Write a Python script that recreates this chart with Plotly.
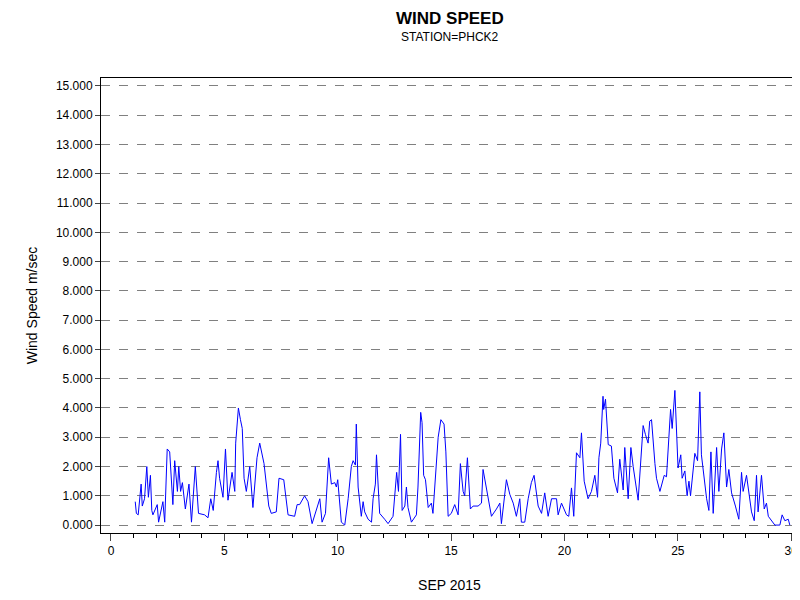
import plotly.graph_objects as go

# (day of Sep 2015, wind speed m/s)
days = [1.07,1.12,1.2,1.33,1.38,1.48,1.58,1.65,1.74,1.8,1.85,2.04,2.1,2.29,2.37,2.48,2.59,2.73,2.81,2.93,2.99,3.07,3.15,3.28,3.44,3.55,3.72,3.86,4.13,4.28,4.4,4.51,4.65,4.72,4.79,4.94,5.05,5.16,5.34,5.46,5.5,5.62,5.71,5.79,5.87,5.97,6.12,6.26,6.44,6.56,6.75,6.88,6.96,7.07,7.29,7.41,7.62,7.81,8.1,8.21,8.32,8.54,8.69,8.87,9.06,9.21,9.31,9.46,9.6,9.72,9.87,9.94,10.0,10.16,10.31,10.46,10.6,10.68,10.78,10.82,10.9,11.04,11.12,11.19,11.34,11.49,11.56,11.66,11.71,11.78,11.85,12.07,12.22,12.44,12.6,12.68,12.77,12.84,12.96,13.03,13.1,13.25,13.47,13.54,13.66,13.72,13.79,13.87,13.99,14.13,14.2,14.43,14.55,14.69,14.77,14.87,15.01,15.16,15.31,15.41,15.53,15.6,15.72,15.85,15.97,16.19,16.34,16.41,16.63,16.78,17.0,17.15,17.22,17.44,17.59,17.74,17.88,18.03,18.1,18.25,18.4,18.54,18.66,18.84,18.99,19.13,19.28,19.43,19.65,19.72,19.87,20.09,20.19,20.31,20.41,20.53,20.68,20.75,20.87,21.04,21.19,21.34,21.46,21.52,21.6,21.7,21.73,21.81,21.93,22.07,22.18,22.34,22.44,22.59,22.66,22.81,22.93,23.03,23.25,23.4,23.47,23.57,23.69,23.76,23.84,23.99,24.06,24.21,24.31,24.4,24.5,24.57,24.68,24.75,24.87,25.01,25.13,25.19,25.31,25.41,25.49,25.56,25.63,25.75,25.87,25.97,26.04,26.19,26.27,26.37,26.46,26.56,26.71,26.81,26.93,27.03,27.15,27.25,27.37,27.54,27.69,27.81,27.88,28.03,28.1,28.25,28.37,28.47,28.54,28.69,28.81,28.91,28.99,29.28,29.5,29.6,29.72,29.87,29.94]
speed = [0.8,0.4,0.35,1.4,0.65,0.9,2.0,0.95,1.7,0.5,0.35,0.7,0.1,0.8,0.1,2.6,2.5,0.7,2.2,1.15,2.0,1.15,1.45,0.55,1.4,0.1,2.0,0.4,0.35,0.25,0.9,0.5,1.8,2.2,1.6,0.95,2.6,0.85,1.8,1.15,2.8,4.0,3.6,3.3,1.6,1.15,2.0,0.6,2.3,2.8,2.1,1.3,0.65,0.4,0.45,1.6,1.55,0.35,0.3,0.7,0.7,1.0,0.8,0.05,0.5,0.9,0.1,0.4,2.3,1.4,1.45,1.3,1.55,0.1,0.0,0.9,2.0,2.2,2.05,3.45,1.3,0.3,0.8,0.45,0.2,0.1,0.9,1.4,2.4,1.3,0.4,0.2,0.05,0.3,1.8,1.15,3.1,0.5,0.65,1.3,0.6,0.1,0.35,1.3,3.85,3.5,1.7,1.55,0.6,0.75,0.4,3.0,3.6,3.45,2.5,0.3,0.4,0.7,0.35,2.1,1.15,1.0,2.3,0.55,0.65,0.65,0.75,1.9,0.95,0.3,0.55,0.75,0.05,1.55,1.05,0.75,0.3,0.9,0.1,0.1,0.9,1.45,1.7,0.65,0.4,1.1,0.3,0.9,0.9,0.35,0.75,0.35,0.3,1.27,0.3,2.47,2.3,3.15,1.5,0.9,1.15,1.7,0.95,2.3,2.8,4.4,3.95,4.3,2.75,2.7,1.6,1.1,2.25,1.2,2.65,0.9,2.65,2.0,0.85,2.5,3.4,3.1,2.8,3.55,3.6,2.1,1.6,1.15,1.45,1.7,1.65,2.7,3.95,3.3,4.6,1.95,2.4,1.6,1.85,1.0,1.5,1.0,1.55,2.45,2.2,4.55,2.4,1.4,0.9,0.5,2.5,0.4,2.65,1.15,2.6,3.15,1.3,1.9,1.1,0.65,0.2,1.8,1.15,1.7,1.25,0.45,0.15,1.7,0.45,1.7,0.55,0.75,0.3,0.0,0.0,0.35,0.15,0.2,0.0,0.25]
y_ticks = [i for i in range(16)]
x_ticks = [0, 5, 10, 15, 20, 25, 30]

fig = go.Figure(go.Scatter(x=days, y=speed, mode="lines",
                           line=dict(color="#0000ff", width=1)))
fig.update_layout(
    width=800, height=600, plot_bgcolor="white", paper_bgcolor="white",
    margin=dict(l=93, r=10, t=70, b=75),
    font=dict(family="Arial, Liberation Sans, sans-serif", size=12, color="black"),
    showlegend=False,
    annotations=[
        dict(text="<b>WIND SPEED</b>", x=0.5, y=1, xref="paper", yref="paper", xanchor="center",
             yanchor="bottom", yshift=48, showarrow=False, font=dict(size=17)),
        dict(text="STATION=PHCK2", x=0.5, y=1, xref="paper", yref="paper", xanchor="center",
             yanchor="bottom", yshift=32, showarrow=False, font=dict(size=12)),
    ],
)
fig.update_xaxes(range=[-0.44, 30.3], tickvals=x_ticks, ticks="outside", ticklen=7,
                 showline=True, linecolor="black", mirror=True, showgrid=False, zeroline=False,
                 minor=dict(dtick=1, ticks="outside", ticklen=4, tickcolor="black"),
                 title=dict(text="SEP 2015", standoff=22))
fig.update_yaxes(range=[-0.27, 15.27], tickvals=y_ticks, tickformat=".3f", ticks="outside", ticklen=5,
                 showline=True, linecolor="black", mirror=True, showgrid=True, gridcolor="#808080",
                 griddash="dash", gridwidth=1, zeroline=False,
                 title=dict(text="Wind Speed m/sec", standoff=14))
fig.write_html("out.html")
